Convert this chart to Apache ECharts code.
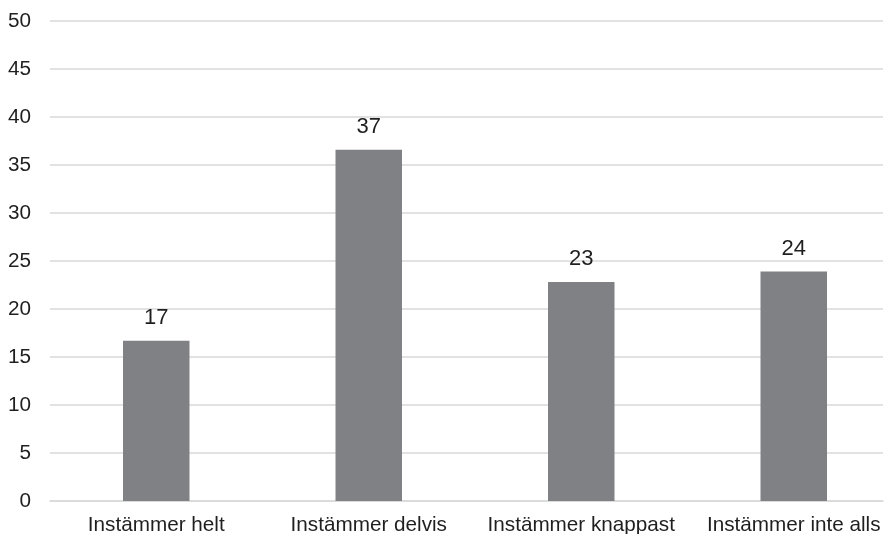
<!DOCTYPE html>
<html>
<head>
<meta charset="utf-8">
<script src="https://cdn.jsdelivr.net/npm/echarts@6/dist/echarts.min.js"></script>
<style>
html,body{margin:0;padding:0;background:#fff;}
#chart{width:893px;height:534px;}
</style>
</head>
<body>
<div id="chart"></div>
<script>
var categories = ['Instämmer helt', 'Instämmer delvis', 'Instämmer knappast', 'Instämmer inte alls'];
var values = [16.7, 36.6, 22.8, 23.9];
var yTicks = [0, 5, 10, 15, 20, 25, 30, 35, 40, 45, 50];

var FONT = 'Liberation Sans, Arial, sans-serif';
var TXT = '#1f1f1f';
var chart = echarts.init(document.getElementById('chart'));
chart.setOption({
  animation: false,
  backgroundColor: '#ffffff',
  grid: [
    { left: 50, top: 21, width: 833, height: 480, outerBoundsMode: 'none' },
    { left: 50, top: 21, width: 850, height: 480, outerBoundsMode: 'none' }
  ],
  xAxis: [
    {
      gridIndex: 0, type: 'category', data: categories,
      axisLine: { lineStyle: { color: '#d9d9d9', width: 1.5 } },
      axisTick: { show: false }, axisLabel: { show: false }
    },
    {
      gridIndex: 1, type: 'category', data: categories,
      axisLine: { show: false },
      axisTick: { show: false },
      axisLabel: { color: TXT, fontSize: 20.7, fontFamily: FONT, margin: 14, interval: 0 }
    }
  ],
  yAxis: [
    {
      gridIndex: 0, type: 'value',
      min: yTicks[0], max: yTicks[yTicks.length - 1], interval: 5,
      axisLine: { show: false }, axisTick: { show: false },
      splitLine: { lineStyle: { color: '#d9d9d9', width: 1.5 } },
      axisLabel: { color: TXT, fontSize: 20.7, fontFamily: FONT, margin: 19 }
    },
    {
      gridIndex: 1, type: 'value',
      min: yTicks[0], max: yTicks[yTicks.length - 1], interval: 5,
      show: false, splitLine: { show: false }
    }
  ],
  series: [{
    type: 'bar',
    xAxisIndex: 1, yAxisIndex: 1,
    data: values,
    barWidth: 66.5,
    itemStyle: { color: '#808184' },
    label: {
      show: true,
      position: 'top',
      distance: 12,
      color: TXT,
      fontSize: 22,
      fontFamily: FONT,
      formatter: function (p) { return Math.round(p.value); }
    }
  }]
});
</script>
</body>
</html>
